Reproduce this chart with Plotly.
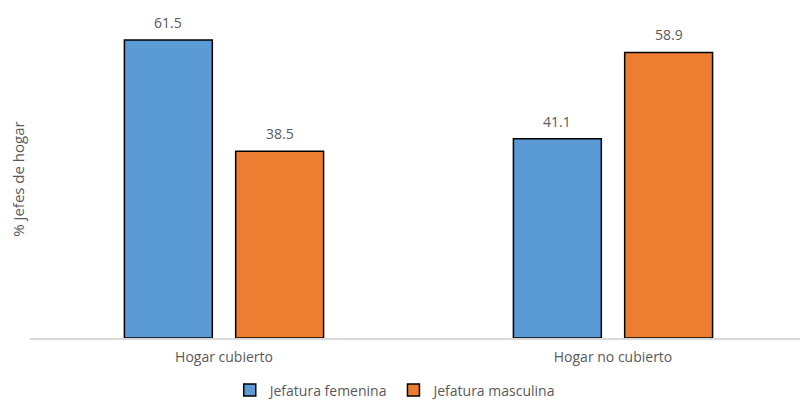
import plotly.graph_objects as go

categorias = ["Hogar cubierto", "Hogar no cubierto"]
jefatura_femenina = [61.5, 41.1]
jefatura_masculina = [38.5, 58.9]
series = ["Jefatura femenina", "Jefatura masculina"]

AZUL = "#5B9BD5"
NARANJA = "#ED7D31"
GRIS_TEXTO = "#595959"
FUENTE = "'Open Sans', Roboto, sans-serif"

fig = go.Figure()
fig.add_trace(go.Bar(
    x=categorias, y=jefatura_femenina, name=series[0],
    marker=dict(color=AZUL, line=dict(color="#000000", width=1.5)),
    width=0.226, offset=-0.256,
))
fig.add_trace(go.Bar(
    x=categorias, y=jefatura_masculina, name=series[1],
    marker=dict(color=NARANJA, line=dict(color="#000000", width=1.5)),
    width=0.226, offset=0.030,
))

# Etiquetas de valor sobre cada barra
for valores, desplazamiento in ((jefatura_femenina, -0.143), (jefatura_masculina, 0.143)):
    for i, v in enumerate(valores):
        fig.add_annotation(
            x=i + desplazamiento, y=v, text=f"{v:.1f}",
            showarrow=False, yanchor="bottom", yshift=6,
            font=dict(size=14, color=GRIS_TEXTO, family=FUENTE),
        )

fig.update_layout(
    width=800, height=403,
    margin=dict(l=30, r=0, t=20, b=65, autoexpand=False),
    plot_bgcolor="white", paper_bgcolor="white",
    font=dict(family=FUENTE, size=14, color=GRIS_TEXTO),
    barmode="group",
    showlegend=True,
    legend=dict(
        orientation="h", xref="paper", x=0.475, xanchor="center",
        yref="paper", y=-0.165, yanchor="middle",
        font=dict(size=14, color=GRIS_TEXTO),
        itemwidth=30, traceorder="normal",
    ),
    xaxis=dict(
        type="category", range=[-0.4987, 1.4807],
        showline=True, linecolor="#D9D9D9", linewidth=1.5,
        ticks="", showgrid=False, tickfont=dict(size=14, color=GRIS_TEXTO),
        ticklabelstandoff=5,
    ),
    yaxis=dict(
        range=[0, 65.6], showticklabels=False, showgrid=False,
        zeroline=False, ticks="",
        title=dict(text="% jefes de hogar", font=dict(size=15, color=GRIS_TEXTO), standoff=0),
    ),
)

fig.write_html("out.html")
